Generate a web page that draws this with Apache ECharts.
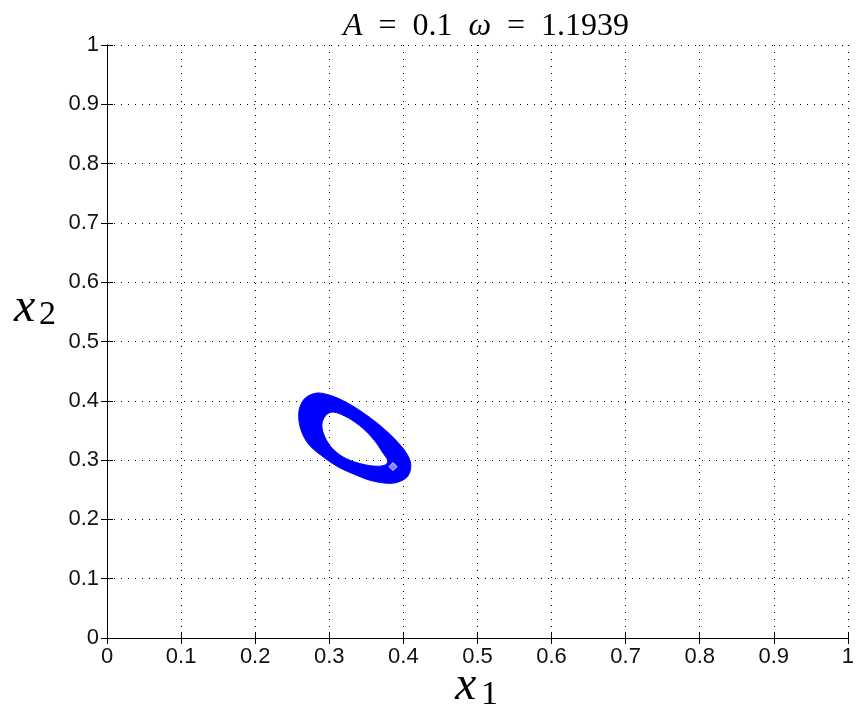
<!DOCTYPE html>
<html>
<head>
<meta charset="utf-8">
<title>A = 0.1 ω = 1.1939</title>
<script src="https://cdn.jsdelivr.net/npm/echarts@6/dist/echarts.min.js"></script>
<style>
    html, body {margin: 0; padding: 0; background: #fff;}
    #main {width: 857px; height: 711px;}
</style>
</head>
<body>
<div id="main"></div>
<script>
// 刻度
var xTickLabels = ['0', '0.1', '0.2', '0.3', '0.4', '0.5', '0.6', '0.7', '0.8', '0.9', '1'];
var yTickLabels = ['0', '0.1', '0.2', '0.3', '0.4', '0.5', '0.6', '0.7', '0.8', '0.9', '1'];

// 轨道外边界 (x1, x2)
var outerX = [0.283, 0.299, 0.319, 0.342, 0.366, 0.388, 0.404, 0.410, 0.406, 0.393, 0.377, 0.355, 0.332, 0.310, 0.288, 0.272, 0.263, 0.259, 0.260, 0.268];
var outerY = [0.413, 0.410, 0.400, 0.383, 0.361, 0.336, 0.312, 0.292, 0.273, 0.263, 0.261, 0.266, 0.277, 0.290, 0.309, 0.327, 0.347, 0.368, 0.388, 0.405];

// 轨道内边界
var innerX = [0.306, 0.326, 0.345, 0.361, 0.372, 0.379, 0.374, 0.359, 0.339, 0.319, 0.304, 0.294, 0.290, 0.295];
var innerY = [0.381, 0.371, 0.354, 0.333, 0.313, 0.299, 0.291, 0.290, 0.295, 0.305, 0.320, 0.339, 0.359, 0.375];

// 初始点
var startPoint = [0.386, 0.289];

var myChart = echarts.init(document.getElementById('main'));

var tickFont = {
    color: '#111',
    fontFamily: 'Liberation Sans, Arial, sans-serif',
    fontSize: 22
};

function tickFormatter(list) {
    return function (value) {
        return list[Math.round(value * 10)];
    };
}

// 闭合平滑曲线 (Catmull-Rom)
function closedCurve(pts, d) {
    var n = pts.length;
    d += 'M' + pts[0][0] + ' ' + pts[0][1] + ' ';
    for (var i = 0; i < n; i++) {
        var p0 = pts[(i - 1 + n) % n], p1 = pts[i], p2 = pts[(i + 1) % n], p3 = pts[(i + 2) % n];
        var c1x = p1[0] + (p2[0] - p0[0]) / 6, c1y = p1[1] + (p2[1] - p0[1]) / 6;
        var c2x = p2[0] - (p3[0] - p1[0]) / 6, c2y = p2[1] - (p3[1] - p1[1]) / 6;
        d += 'C' + c1x + ' ' + c1y + ' ' + c2x + ' ' + c2y + ' ' + p2[0] + ' ' + p2[1] + ' ';
    }
    return d + 'Z ';
}

var lineBlack = {lineStyle: {color: '#000', width: 1}};
var serif = 'Liberation Serif, serif';

var option = {
    animation: false,
    backgroundColor: '#fff',
    title: {
        text: '{i|A}{r|  =  0.1  }{i|ω}{r|  =  1.1939}',
        left: 481,
        top: 6,
        textAlign: 'center',
        textStyle: {
            fontWeight: 'normal',
            rich: {
                i: {fontFamily: serif, fontStyle: 'italic', fontWeight: 'normal', fontSize: 32, color: '#000'},
                r: {fontFamily: serif, fontWeight: 'normal', fontSize: 32, color: '#000'}
            }
        }
    },
    grid: {
        left: 107,
        right: 5,
        top: 45,
        bottom: 73,
        containLabel: false
    },
    xAxis: [{
        type: 'value',
        min: 0,
        max: 1,
        interval: 0.1,
        position: 'bottom',
        axisLine: lineBlack,
        axisTick: {inside: true, length: 6, lineStyle: {color: '#000'}},
        axisLabel: Object.assign({margin: 8, showMinLabel: true, showMaxLabel: true,
            formatter: tickFormatter(xTickLabels)}, tickFont),
        splitLine: {show: true, lineStyle: {color: '#000', width: 1, type: [1, 6]}}
    }, {
        type: 'value',
        min: 0,
        max: 1,
        interval: 0.1,
        position: 'top',
        axisLine: lineBlack,
        axisTick: {inside: true, length: 6, lineStyle: {color: '#000'}},
        axisLabel: {show: false},
        splitLine: {show: false}
    }],
    yAxis: [{
        type: 'value',
        min: 0,
        max: 1,
        interval: 0.1,
        position: 'left',
        axisLine: lineBlack,
        axisTick: {inside: true, length: 6, lineStyle: {color: '#000'}},
        axisLabel: Object.assign({margin: 8, showMinLabel: true, showMaxLabel: true,
            formatter: tickFormatter(yTickLabels)}, tickFont),
        splitLine: {show: true, lineStyle: {color: '#000', width: 1, type: [1, 6]}}
    }, {
        type: 'value',
        min: 0,
        max: 1,
        interval: 0.1,
        position: 'right',
        axisLine: lineBlack,
        axisTick: {inside: true, length: 6, lineStyle: {color: '#000'}},
        axisLabel: {show: false},
        splitLine: {show: false}
    }],
    graphic: [
        // x1
        {type: 'text', left: 455, top: 662, style: {text: 'x', fontFamily: serif, fontStyle: 'italic', fontSize: 48, fill: '#000'}},
        {type: 'text', left: 481, top: 678, style: {text: '1', fontFamily: serif, fontSize: 34, fill: '#000'}},
        // x2
        {type: 'text', left: 14, top: 284, style: {text: 'x', fontFamily: serif, fontStyle: 'italic', fontSize: 48, fill: '#000'}},
        {type: 'text', left: 39, top: 298, style: {text: '2', fontFamily: serif, fontSize: 34, fill: '#000'}}
    ],
    series: [{
        name: 'orbit',
        type: 'custom',
        coordinateSystem: 'cartesian2d',
        data: [[outerX[0], outerY[0]]],
        renderItem: function (params, api) {
            var outer = [], inner = [], i;
            for (i = 0; i < outerX.length; i++) {
                outer.push(api.coord([outerX[i], outerY[i]]));
            }
            // 内圈反向，形成空洞
            for (i = innerX.length - 1; i >= 0; i--) {
                inner.push(api.coord([innerX[i], innerY[i]]));
            }
            var d = closedCurve(inner, closedCurve(outer, ''));
            return {
                type: 'path',
                shape: {pathData: d},
                style: {fill: '#0000ff', stroke: '#0000ff', lineWidth: 1}
            };
        }
    }, {
        name: 'start',
        type: 'scatter',
        symbol: 'diamond',
        symbolSize: 8,
        itemStyle: {color: 'rgba(200,200,255,0.8)', borderColor: '#fff', borderWidth: 1},
        data: [startPoint]
    }]
};

myChart.setOption(option);
</script>
</body>
</html>
